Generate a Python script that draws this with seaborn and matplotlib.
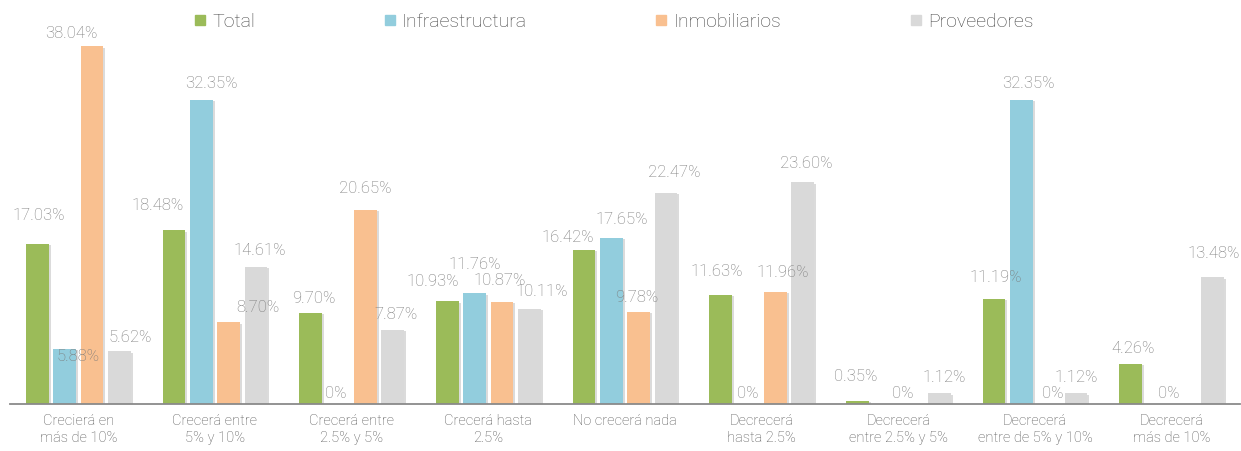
import numpy as np
import pandas as pd
import matplotlib
matplotlib.use("Agg")
import matplotlib.pyplot as plt
import matplotlib.patheffects as pe
from matplotlib.lines import Line2D
import seaborn as sns

categories = [
    "Crecierá en\nmás de 10%",
    "Crecerá entre\n5% y 10%",
    "Crecerá entre\n2.5% y 5%",
    "Crecerá hasta\n2.5%",
    "No crecerá nada",
    "Decrecerá\nhasta 2.5%",
    "Decrecerá\nentre 2.5% y 5%",
    "Decrecerá\nentre de 5% y 10%",
    "Decrecerá\nmás de 10%",
]
series = ["Total", "Infraestructura", "Inmobiliarios", "Proveedores"]
total = [17.03, 18.48, 9.70, 10.93, 16.42, 11.63, 0.35, 11.19, 4.26]
infraestructura = [5.88, 32.35, 0.0, 11.76, 17.65, 0.0, 0.0, 32.35, 0.0]
inmobiliarios = [38.04, 8.70, 20.65, 10.87, 9.78, 11.96, np.nan, 0.0, np.nan]
proveedores = [5.62, 14.61, 7.87, 10.11, 22.47, 23.60, 1.12, 1.12, 13.48]

colors = ["#9BBB59", "#92CDDD", "#F9C090", "#D9D9D9"]

# label nudges in pixels (dx, dy above the bar top) to keep labels clear of each other
label_dx = [
    [1, -16, 3, -15, -16, -4, -2, 2, 2],
    [13, 10, -2, 0, 10, 0, 18, 7, 11],
    [-21, 29, 0, -2, -2, 7, 0, 4, 0],
    [11, 4, 3, 12, 8, 4, 5, 0, 1],
]
label_dy = [
    [28, 25, 14, 20, 12, 23, 24, 21, 15],
    [-8, 16, 11, 29, 19, 11, 11, 16, 11],
    [13, 15, 21, 21, 15, 19, 0, 11, 0],
    [14, 16, 16, 17, 20, 19, 16, 16, 24],
]

values = [total, infraestructura, inmobiliarios, proveedores]
df = pd.DataFrame({
    "categoria": categories * 4,
    "serie": np.repeat(series, len(categories)),
    "valor": np.concatenate([np.asarray(v, dtype=float) for v in values]),
})

sns.set_theme(style="white")
plt.rcParams["font.family"] = ["Roboto", "DejaVu Sans"]
plt.rcParams["font.weight"] = "light"

fig = plt.figure(figsize=(12.41, 4.51), dpi=100)
ax = fig.add_axes([10 / 1241, 47 / 451, 1230 / 1241, 376 / 451])

sns.barplot(
    data=df, x="categoria", y="valor", hue="serie",
    order=categories, hue_order=series, palette=colors,
    width=0.8, gap=0.18, saturation=1, legend=False, ax=ax,
    linewidth=0, errorbar=None,
)

shadow = [pe.SimplePatchShadow(offset=(1.5, -1), shadow_rgbFace="#9a9a9a", alpha=0.35), pe.Normal()]
for patch in ax.patches:
    patch.set_path_effects(shadow)

offsets = [-0.3, -0.1, 0.1, 0.3]
for j, vals in enumerate(values):
    for i, v in enumerate(vals):
        if np.isnan(v):
            continue
        txt = "0%" if v == 0 else f"{v:.2f}%"
        ax.annotate(
            txt, xy=(i + offsets[j], v),
            xytext=(label_dx[j][i], label_dy[j][i]), textcoords="offset pixels",
            ha="center", va="center", fontsize=12, color="#7A7A7A",
            fontweight="light",
        )

ax.set_xlim(-0.5, len(categories) - 0.5)
ax.set_ylim(0, 40)
ax.set_xlabel("")
ax.set_ylabel("")
ax.set_yticks([])
for side in ["left", "right", "top"]:
    ax.spines[side].set_visible(False)
ax.spines["bottom"].set_color("#8A8A8A")
ax.spines["bottom"].set_linewidth(1.3)
ax.tick_params(axis="x", length=0, pad=7, labelsize=10.5, labelcolor="#555555")
for lbl in ax.get_xticklabels():
    lbl.set_linespacing(1.3)
    lbl.set_fontweight("light")

handles = [
    Line2D([], [], marker="s", linestyle="none", markersize=7,
           markerfacecolor=c, markeredgecolor=c)
    for c in colors
]
fig.legend(
    handles, series, loc="center", bbox_to_anchor=(614 / 1241, 1 - 22 / 451),
    ncol=4, frameon=False, handlelength=0.6, handletextpad=0.35,
    columnspacing=6.6, labelcolor="#444444", prop={"weight": "light", "size": 14},
)

fig.savefig("out.png", dpi=100)
